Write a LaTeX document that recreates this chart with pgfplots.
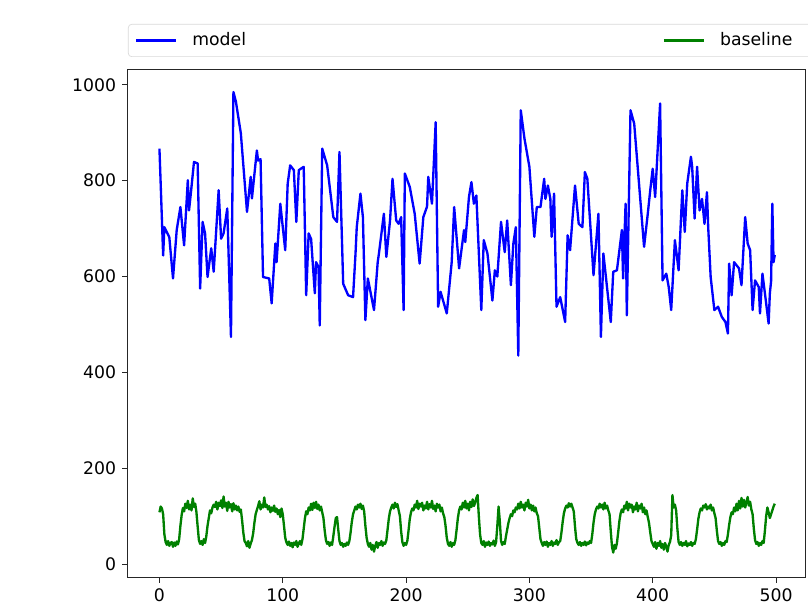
\documentclass[border=0pt]{standalone}
\usepackage{fontspec}
\setmainfont{DejaVu Sans}
\usepackage{pgfplots}
\pgfplotsset{compat=1.18}
\definecolor{mplblue}{RGB}{0,0,255}
\definecolor{mplgreen}{RGB}{0,128,0}
\begin{document}
\fontsize{10.4}{12.5}\selectfont
\begin{tikzpicture}
\useasboundingbox (-76.8bp,-18bp) rectangle (408bp,346.2bp);
\begin{axis}[
  scale only axis, width=406.2bp, height=304.2bp,
  at={(0,0)}, anchor=south west,
  xmin=-25.5, xmax=523.5, ymin=-27, ymax=1031,
  xtick={0,100,...,500}, ytick={0,200,...,1000},
  tick align=outside, xtick pos=bottom, ytick pos=left,
  major tick length=3.5bp,
  axis line style={line width=0.6bp, black!85},
  tick style={line width=0.6bp, black!85},
  /pgf/number format/assume math mode=true,
  /pgf/number format/1000 sep={},
  scaled ticks=false,
  ticklabel style={font=\fontsize{10.4}{12.5}\selectfont},
  legend style={at={(0,1)}, yshift=7.8bp, anchor=south west, legend columns=2,
    draw=black!15, rounded corners=2bp, inner xsep=4bp, inner ysep=3bp,
    font=\fontsize{10.4}{12.5}\selectfont,
    /tikz/every even column/.append style={column sep=248bp}},
  legend image code/.code={\draw[#1] (0bp,0bp) -- (24bp,0bp); \path (31bp,0bp);},
]
\addplot[mplblue, line width=1.4bp, line join=round] coordinates {
(0,867)(1,794)(3,644)(4,703)(8,682)(11,596)(14,697)(17,745)(20,665)(23,801)(24,738)(26,787)(28,839)(31,836)(33,575)(35,714)(37,690)(39,599)(42,659)(44,610)(48,780)(50,679)(52,690)(55,742)(58,474)(60,985)(62,965)(66,899)(71,735)(74,808)(75,763)(79,863)(80,842)(82,845)(84,599)(89,596)(91,544)(94,669)(95,630)(98,752)(102,655)(104,794)(106,832)(109,822)(111,714)(113,822)(117,829)(119,561)(121,690)(123,678)(126,565)(127,630)(129,620)(130,498)(132,867)(136,832)(141,724)(144,714)(146,860)(149,585)(153,561)(157,557)(159,648)(160,703)(163,773)(165,724)(167,509)(169,596)(174,530)(177,630)(178,648)(182,731)(184,641)(187,717)(189,804)(192,717)(194,710)(196,724)(198,530)(199,815)(203,787)(207,731)(211,627)(214,724)(217,746)(218,808)(221,752)(224,922)(226,537)(228,568)(230,550)(233,523)(237,630)(239,745)(243,617)(247,697)(248,672)(251,766)(253,797)(255,752)(257,769)(261,530)(263,676)(266,648)(270,550)(272,613)(274,600)(277,714)(280,651)(282,717)(285,582)(287,669)(289,703)(291,435)(293,947)(296,888)(300,829)(304,683)(306,745)(309,745)(312,804)(313,762)(315,790)(317,762)(318,683)(320,773)(322,537)(325,557)(329,505)(331,686)(333,655)(337,790)(340,710)(343,703)(345,818)(347,804)(352,603)(356,731)(358,474)(360,648)(366,505)(368,610)(371,613)(375,697)(376,596)(378,752)(379,519)(382,947)(385,919)(393,662)(396,731)(398,780)(400,825)(402,766)(406,961)(408,592)(411,606)(413,578)(415,530)(418,676)(421,613)(424,780)(426,693)(428,794)(431,850)(432,829)(434,721)(436,829)(438,738)(440,762)(442,710)(444,776)(445,703)(447,599)(450,530)(453,537)(456,516)(459,505)(461,481)(462,627)(464,561)(466,630)(470,617)(472,582)(475,724)(477,669)(479,655)(481,530)(483,592)(486,578)(487,523)(489,606)(491,565)(494,502)(495,565)(496,590)(497,752)(498,630)(499,645)
};
\addlegendentry{model}
\addplot[mplgreen, line width=1.4bp, line join=round] coordinates {
(0,108)(1,120)(2,116)(3,104)(4,62)(5,46)(6,40)(7,48)(8,38)(9,44)(10,46)(11,36)(12,45)(13,38)(14,47)(15,41)(16,52)(17,80)(18,102)(19,117)(20,110)(21,126)(22,117)(23,132)(24,114)(25,124)(26,112)(27,137)(28,119)(29,126)(30,108)(31,78)(32,50)(33,42)(34,48)(35,40)(36,52)(37,44)(38,58)(39,80)(40,96)(41,112)(42,106)(43,118)(44,124)(45,119)(46,130)(47,114)(48,128)(49,121)(50,133)(51,117)(52,141)(53,120)(54,128)(55,111)(56,130)(57,118)(58,125)(59,110)(60,127)(61,114)(62,122)(63,112)(64,120)(65,109)(66,114)(67,92)(68,66)(69,48)(70,44)(71,37)(72,48)(73,34)(74,43)(75,50)(76,64)(77,86)(78,104)(79,113)(80,121)(81,131)(82,114)(83,124)(84,118)(85,139)(86,119)(87,124)(88,114)(89,121)(90,108)(91,118)(92,111)(93,122)(94,109)(95,116)(96,104)(97,113)(98,98)(99,116)(100,104)(101,80)(102,55)(103,45)(104,40)(105,47)(106,38)(107,44)(108,35)(109,45)(110,40)(111,48)(112,36)(113,43)(114,48)(115,40)(116,52)(117,74)(118,96)(119,110)(120,104)(121,118)(122,112)(123,126)(124,113)(125,128)(126,117)(127,130)(128,115)(129,124)(130,112)(131,120)(132,108)(133,96)(134,70)(135,50)(136,42)(137,46)(138,38)(139,45)(140,40)(141,58)(142,78)(143,96)(144,98)(145,72)(146,48)(147,40)(148,44)(149,36)(150,42)(151,38)(152,45)(153,40)(154,48)(155,66)(156,88)(157,104)(158,112)(159,120)(160,114)(161,124)(162,118)(163,126)(164,115)(165,122)(166,110)(167,80)(168,55)(169,42)(170,36)(171,44)(172,30)(173,40)(174,26)(175,38)(176,46)(177,34)(178,44)(179,40)(180,48)(181,38)(182,45)(183,42)(184,50)(185,72)(186,95)(187,110)(188,118)(189,124)(190,116)(191,128)(192,119)(193,125)(194,112)(195,100)(196,68)(197,46)(198,38)(199,44)(200,40)(201,48)(202,70)(203,94)(204,108)(205,116)(206,112)(207,124)(208,118)(209,132)(210,115)(211,126)(212,120)(213,128)(214,112)(215,122)(216,116)(217,130)(218,114)(219,125)(220,118)(221,132)(222,115)(223,122)(224,110)(225,126)(226,118)(227,124)(228,110)(229,118)(230,106)(231,98)(232,80)(233,55)(234,42)(235,38)(236,46)(237,36)(238,44)(239,40)(240,50)(241,72)(242,96)(243,112)(244,120)(245,114)(246,128)(247,118)(248,132)(249,116)(250,126)(251,112)(252,130)(253,119)(254,135)(255,121)(256,128)(257,138)(258,144)(259,100)(260,62)(261,44)(262,40)(263,48)(264,36)(265,45)(266,40)(267,47)(268,38)(269,44)(270,41)(271,49)(272,38)(273,46)(274,80)(275,120)(276,90)(277,48)(278,40)(279,46)(280,42)(281,58)(282,72)(283,86)(284,96)(285,104)(286,100)(287,112)(288,108)(289,118)(290,114)(291,126)(292,116)(293,130)(294,118)(295,124)(296,112)(297,128)(298,120)(299,134)(300,116)(301,124)(302,112)(303,122)(304,110)(305,118)(306,106)(307,100)(308,76)(309,52)(310,44)(311,38)(312,46)(313,40)(314,47)(315,36)(316,44)(317,40)(318,48)(319,38)(320,45)(321,42)(322,50)(323,40)(324,46)(325,48)(326,66)(327,88)(328,106)(329,116)(330,122)(331,118)(332,127)(333,120)(334,126)(335,118)(336,110)(337,78)(338,52)(339,44)(340,40)(341,46)(342,38)(343,44)(344,40)(345,47)(346,39)(347,45)(348,42)(349,48)(350,44)(351,62)(352,86)(353,104)(354,114)(355,120)(356,116)(357,126)(358,118)(359,124)(360,114)(361,128)(362,116)(363,122)(364,112)(365,104)(366,68)(367,36)(368,24)(369,40)(370,32)(371,44)(372,66)(373,90)(374,106)(375,114)(376,108)(377,122)(378,116)(379,130)(380,112)(381,126)(382,118)(383,124)(384,108)(385,120)(386,114)(387,128)(388,110)(389,122)(390,116)(391,126)(392,108)(393,118)(394,104)(395,112)(396,98)(397,86)(398,66)(399,48)(400,42)(401,36)(402,46)(403,32)(404,44)(405,38)(406,48)(407,34)(408,42)(409,30)(410,44)(411,36)(412,26)(413,40)(414,46)(415,60)(416,144)(417,118)(418,124)(419,112)(420,74)(421,46)(422,40)(423,46)(424,38)(425,44)(426,40)(427,48)(428,37)(429,43)(430,40)(431,46)(432,38)(433,44)(434,42)(435,52)(436,72)(437,94)(438,108)(439,116)(440,112)(441,122)(442,118)(443,125)(444,114)(445,120)(446,116)(447,124)(448,112)(449,118)(450,106)(451,96)(452,70)(453,48)(454,42)(455,46)(456,38)(457,44)(458,40)(459,48)(460,46)(461,62)(462,82)(463,98)(464,108)(465,104)(466,118)(467,110)(468,126)(469,112)(470,132)(471,116)(472,138)(473,120)(474,134)(475,118)(476,128)(477,140)(478,122)(479,130)(480,114)(481,104)(482,74)(483,50)(484,42)(485,46)(486,38)(487,44)(488,40)(489,48)(490,44)(491,70)(492,100)(493,118)(494,108)(495,96)(496,104)(497,112)(498,120)(499,126)
};
\addlegendentry{\makebox[62bp][l]{baseline}}
\end{axis}
\end{tikzpicture}
\end{document}
